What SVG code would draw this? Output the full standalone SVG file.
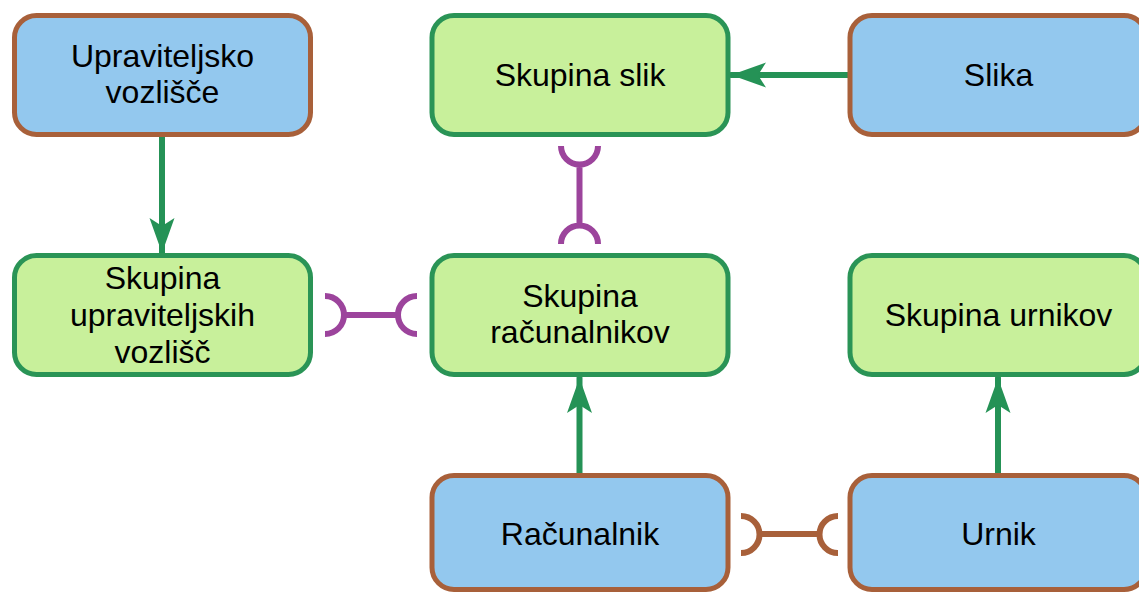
<svg xmlns="http://www.w3.org/2000/svg" width="1139" height="592" viewBox="0 0 1139 592">
<style>
.blue{fill:#93C8EE;stroke:#A8603A;stroke-width:5}
.green{fill:#C8F09B;stroke:#2A9456;stroke-width:5}
.t{font-family:"Liberation Sans",Arial,sans-serif;font-size:32px;fill:#000;text-anchor:middle}
.arr{stroke:#259256;stroke-width:6;fill:none;stroke-linecap:round}
.pur{stroke:#9C449C;stroke-width:6;fill:none}
.brn{stroke:#A8603A;stroke-width:6;fill:none}
</style>
<defs>
<marker id="ah" viewBox="-36 -13 38 26" refX="0" refY="0" markerWidth="38" markerHeight="26" markerUnits="userSpaceOnUse" orient="auto">
<path d="M0,0 L-35,-12.5 L-27,0 L-35,12.5 Z" fill="#259256"/>
</marker>
</defs>
<rect width="1139" height="592" fill="#fff"/>
<g id="connectors">
<path class="arr" d="M162,135 L162,253" marker-end="url(#ah)"/>
<path class="arr" d="M850,75 L731,75" marker-end="url(#ah)"/>
<path class="arr" d="M579.5,476 L579.5,378" marker-end="url(#ah)"/>
<path class="arr" d="M998,476 L998,378" marker-end="url(#ah)"/>
<path class="pur" d="M579.5,164 L579.5,226 M561,146 A18.5,18.5 0 0 0 598,146 M561,244 A18.5,18.5 0 0 1 598,244"/>
<path class="pur" d="M343,315 L399,315 M325,296 A19,19 0 0 1 325,334 M417,296 A19,19 0 0 0 417,334"/>
<path class="brn" d="M759,534 L820,534 M741,516 A18.5,18.5 0 0 1 741,553 M838,516 A18.5,18.5 0 0 0 838,553"/>
</g>
<g id="upraviteljsko-vozlisce">
<rect class="blue" x="14.5" y="15.5" width="296" height="119" rx="22"/>
<text class="t" x="162.5" y="67">Upraviteljsko</text>
<text class="t" x="162.5" y="102.5">vozlišče</text>
</g>
<g id="skupina-slik">
<rect class="green" x="432" y="15.5" width="296" height="119" rx="22"/>
<text class="t" x="580" y="86">Skupina slik</text>
</g>
<g id="slika">
<rect class="blue" x="850" y="15.5" width="296" height="119" rx="22"/>
<text class="t" x="998.5" y="86">Slika</text>
</g>
<g id="skupina-upraviteljskih-vozlisc">
<rect class="green" x="14.5" y="255.5" width="296" height="119" rx="22"/>
<text class="t" x="162.5" y="289">Skupina</text>
<text class="t" x="162.5" y="326">upraviteljskih</text>
<text class="t" x="162.5" y="363">vozlišč</text>
</g>
<g id="skupina-racunalnikov">
<rect class="green" x="432" y="255.5" width="296" height="119" rx="22"/>
<text class="t" x="580" y="307">Skupina</text>
<text class="t" x="580" y="343">računalnikov</text>
</g>
<g id="skupina-urnikov">
<rect class="green" x="850" y="255.5" width="296" height="119" rx="22"/>
<text class="t" x="998.5" y="326">Skupina urnikov</text>
</g>
<g id="racunalnik">
<rect class="blue" x="432" y="475.5" width="296" height="114" rx="22"/>
<text class="t" x="580" y="545">Računalnik</text>
</g>
<g id="urnik">
<rect class="blue" x="850" y="475.5" width="296" height="114" rx="22"/>
<text class="t" x="998.5" y="545">Urnik</text>
</g>
</svg>
